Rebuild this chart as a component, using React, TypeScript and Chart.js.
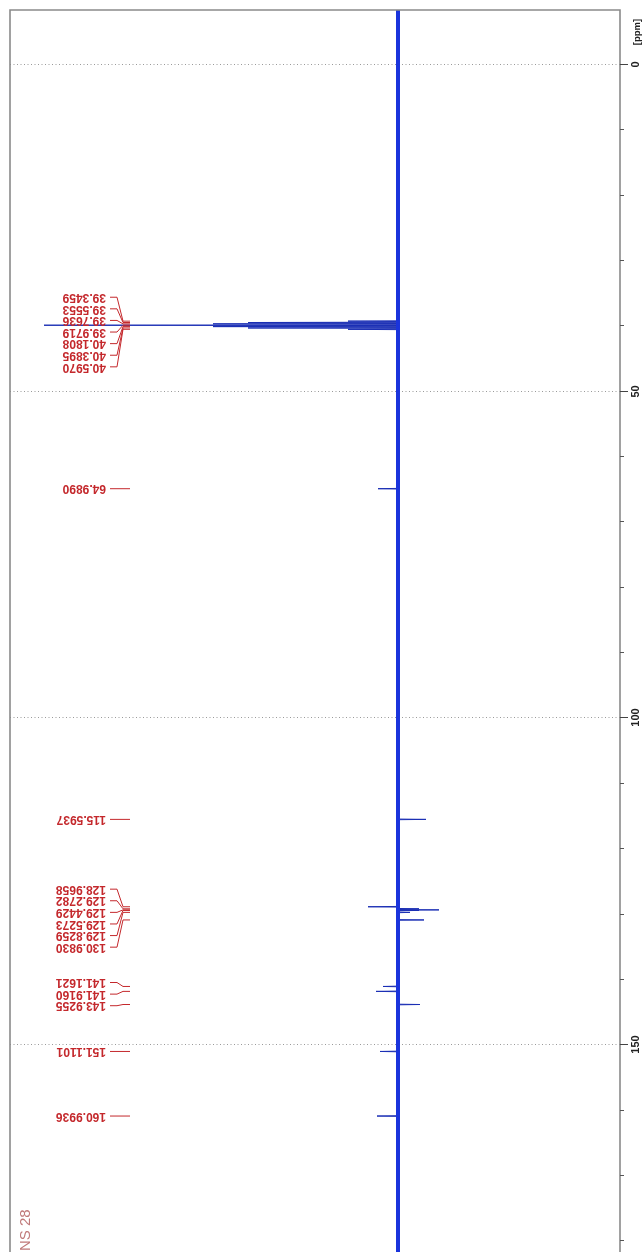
import React, { useEffect, useRef } from "react";
import { Chart, registerables } from "chart.js";

Chart.register(...registerables);

// ---- data ----
const peakShifts = [
  39.3459, 39.5553, 39.7636, 39.9719, 40.1808, 40.3895, 40.597,
  64.989,
  115.5937,
  128.9658, 129.2782, 129.4429, 129.5273, 129.8259, 130.983,
  141.1621, 141.916, 143.9255,
  151.1101,
  160.9936,
];
const peakIntensities = [
  50, 150, 185, 354, 185, 150, 50,
  20,
  -28,
  30, -21, -41, -21, -12, -26,
  15, 22, -22,
  18,
  21,
];
const peakLabels = [
  "39.3459", "39.5553", "39.7636", "39.9719", "40.1808", "40.3895", "40.5970",
  "64.9890",
  "115.5937",
  "128.9658", "129.2782", "129.4429", "129.5273", "129.8259", "130.9830",
  "141.1621", "141.9160", "143.9255",
  "151.1101",
  "160.9936",
];
const majorTicks = [0, 50, 100, 150];
const majorTickLabels = ["0", "50", "100", "150"];
const minorTickStep = 10;
const ppmMin = -8.27;
const ppmMax = 181.8;
const intensityMin = -222;
const intensityMax = 388;
const axisTitle = "[ppm]";
const footnote = "NS 28";

const LABEL_RED = "#c4282c";
const FRAME = "#8a8a8a";

function layoutRows(ys: number[], sp: number): number[] {
  const cl: { idx: number[]; sum: number }[] = [];
  const top = (c: { idx: number[]; sum: number }) =>
    c.sum / c.idx.length - ((c.idx.length - 1) / 2) * sp;
  ys.forEach((y, i) => {
    cl.push({ idx: [i], sum: y });
    while (cl.length > 1) {
      const a = cl[cl.length - 2];
      const b = cl[cl.length - 1];
      if (top(a) + a.idx.length * sp > top(b)) {
        a.idx.push(...b.idx);
        a.sum += b.sum;
        cl.pop();
      } else break;
    }
  });
  const rows: number[] = new Array(ys.length);
  cl.forEach((c) => {
    const n = c.idx.length;
    const shift = n >= 4 ? 6.8 : 0;
    const t = top(c) + shift;
    c.idx.forEach((id, k) => {
      rows[id] = t + k * sp;
    });
  });
  return rows;
}

const nmrPlugin = {
  id: "nmrDecor",
  beforeDatasetsDraw(chart: any) {
    const { ctx, chartArea } = chart;
    const ys = chart.scales.y;
    ctx.save();
    ctx.strokeStyle = "#9a9a9a";
    ctx.lineWidth = 1;
    ctx.setLineDash([1, 2.5]);
    majorTicks.forEach((t) => {
      const py = Math.round(ys.getPixelForValue(t)) + 0.5;
      ctx.beginPath();
      ctx.moveTo(chartArea.left, py);
      ctx.lineTo(chartArea.right, py);
      ctx.stroke();
    });
    ctx.restore();
  },
  afterDatasetsDraw(chart: any) {
    const { ctx, chartArea } = chart;
    const ys = chart.scales.y;
    const L = chartArea.left;
    const R = chartArea.right;
    const T = chartArea.top;
    const B = chartArea.bottom;
    ctx.save();
    // frame
    ctx.strokeStyle = FRAME;
    ctx.lineWidth = 1.6;
    ctx.beginPath();
    ctx.moveTo(L, B);
    ctx.lineTo(L, T);
    ctx.lineTo(R, T);
    ctx.lineTo(R, B);
    ctx.stroke();

    // minor ticks
    ctx.strokeStyle = "#555";
    ctx.lineWidth = 1;
    for (let v = Math.ceil(ppmMin / minorTickStep) * minorTickStep; v <= ppmMax; v += minorTickStep) {
      if (majorTicks.includes(v)) continue;
      const py = Math.round(ys.getPixelForValue(v)) + 0.5;
      ctx.beginPath();
      ctx.moveTo(R, py);
      ctx.lineTo(R + 4, py);
      ctx.stroke();
    }
    // major ticks + labels
    ctx.fillStyle = "#222";
    ctx.font = "bold 11px 'Liberation Sans', Arial, sans-serif";
    majorTicks.forEach((t, i) => {
      const py = Math.round(ys.getPixelForValue(t)) + 0.5;
      ctx.strokeStyle = "#444";
      ctx.beginPath();
      ctx.moveTo(R, py);
      ctx.lineTo(R + 8, py);
      ctx.stroke();
      ctx.save();
      ctx.translate(636, py);
      ctx.rotate(-Math.PI / 2);
      ctx.textAlign = "center";
      ctx.textBaseline = "middle";
      ctx.fillText(majorTickLabels[i], 0, 0);
      ctx.restore();
    });
    // axis title
    ctx.save();
    ctx.font = "bold 9.5px 'Liberation Sans', Arial, sans-serif";
    ctx.translate(637, 32);
    ctx.rotate(-Math.PI / 2);
    ctx.textAlign = "center";
    ctx.textBaseline = "middle";
    ctx.fillText(axisTitle, 0, 0);
    ctx.restore();

    // peak labels
    const peakY = peakShifts.map((s) => ys.getPixelForValue(s));
    const rows = layoutRows(peakY, 11.6);
    ctx.strokeStyle = LABEL_RED;
    ctx.fillStyle = LABEL_RED;
    ctx.lineWidth = 1;
    ctx.font = "bold 12px 'Liberation Sans', Arial, sans-serif";
    peakLabels.forEach((lab, i) => {
      const ry = rows[i];
      const pyk = peakY[i];
      ctx.beginPath();
      ctx.moveTo(110, ry);
      ctx.lineTo(117, ry);
      ctx.lineTo(123, pyk);
      ctx.lineTo(130, pyk);
      ctx.stroke();
      ctx.save();
      ctx.translate(106, ry);
      ctx.rotate(Math.PI);
      ctx.textAlign = "left";
      ctx.textBaseline = "middle";
      ctx.fillText(lab, 0, 0);
      ctx.restore();
    });

    // footnote
    ctx.save();
    ctx.fillStyle = "#c07a7a";
    ctx.font = "15px 'Liberation Sans', Arial, sans-serif";
    ctx.translate(30, 1251);
    ctx.rotate(-Math.PI / 2);
    ctx.textAlign = "left";
    ctx.textBaseline = "alphabetic";
    ctx.fillText(footnote, 0, 0);
    ctx.restore();

    ctx.restore();
  },
};

export default function App() {
  const ref = useRef<HTMLCanvasElement | null>(null);
  useEffect(() => {
    if (!ref.current) return;
    const spectrum: { x: number; y: number }[] = [{ x: 0, y: ppmMin }];
    peakShifts.forEach((s, i) => {
      spectrum.push({ x: 0, y: s - 0.05 });
      spectrum.push({ x: peakIntensities[i], y: s });
      spectrum.push({ x: 0, y: s + 0.05 });
    });
    spectrum.push({ x: 0, y: ppmMax });

    const chart = new Chart(ref.current, {
      type: "scatter",
      data: {
        datasets: [
          {
            data: [
              { x: 0, y: ppmMin },
              { x: 0, y: ppmMax },
            ],
            showLine: true,
            borderColor: "#1a34dc",
            borderWidth: 4,
            pointRadius: 0,
          },
          {
            data: spectrum,
            showLine: true,
            borderColor: "#1a2eb4",
            borderWidth: 1,
            pointRadius: 0,
          },
        ],
      },
      options: {
        animation: false,
        responsive: false,
        maintainAspectRatio: false,
        layout: { padding: { left: 10, top: 10, right: 24, bottom: 0 } },
        plugins: { legend: { display: false }, tooltip: { enabled: false } },
        scales: {
          x: { type: "linear", display: false, reverse: true, min: intensityMin, max: intensityMax },
          y: { type: "linear", display: false, reverse: true, min: ppmMin, max: ppmMax },
        },
      },
      plugins: [nmrPlugin],
    });
    return () => chart.destroy();
  }, []);
  return (
    <div style={{ position: "absolute", left: 0, top: 0, width: 644, height: 1252, background: "#fff" }}>
      <canvas ref={ref} width={644} height={1252} style={{ display: "block" }} />
    </div>
  );
}
